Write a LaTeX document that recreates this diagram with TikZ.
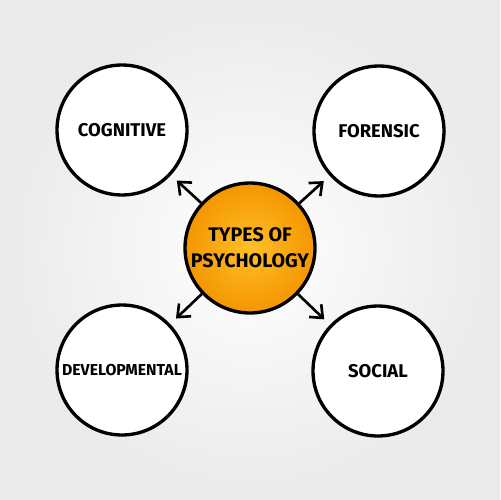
\documentclass[tikz,border=0pt]{standalone}
\usepackage{fontspec}
\setmainfont{Fira Sans}
\usetikzlibrary{arrows.meta}
\definecolor{bgout}{RGB}{234,234,234}
\definecolor{orin}{RGB}{255,192,40}
\definecolor{orout}{RGB}{244,150,0}
\tikzset{
  bubble/.style={circle, draw=black, line width=1.9pt, fill=white, minimum size=2.6cm, inner sep=0pt},
  btext/.style={font=\bfseries\fontsize{10.5}{12}\selectfont, align=center},
  hub/.style={bubble, shading=radial, inner color=orin, outer color=orout},
  arr/.style={line width=1.5pt, -{Straight Barb[length=6pt,width=10pt,line width=1.5pt]}, shorten >=4.5pt}
}
\begin{document}
\begin{tikzpicture}[x=0.02cm,y=-0.02cm]
\shade[inner color=white, outer color=bgout] (0,0) rectangle (500,500);
\useasboundingbox (0,0) rectangle (500,500);
\node[hub] (c) at (250,248) {};
\node[bubble] (tl) at (122,130) {};
\node[bubble] (tr) at (379,131) {};
\node[bubble] (bl) at (122,370) {};
\node[bubble] (br) at (378,371) {};
\node[btext, font=\bfseries\fontsize{11.2}{15}\selectfont] (ct) at (c.center) {TYPES OF\\PSYCHOLOGY};
\node[btext] (tlt) at (tl.center) {COGNITIVE};
\node[btext] (trt) at (tr.center) {FORENSIC};
\node[btext, font=\bfseries\fontsize{9}{11}\selectfont] (blt) at (bl.center) {DEVELOPMENTAL};
\node[btext] (brt) at (br.center) {SOCIAL};
\draw[arr] (c) -- (tl);
\draw[arr] (c) -- (tr);
\draw[arr] (c) -- (bl);
\draw[arr] (c) -- (br);
\end{tikzpicture}
\end{document}
